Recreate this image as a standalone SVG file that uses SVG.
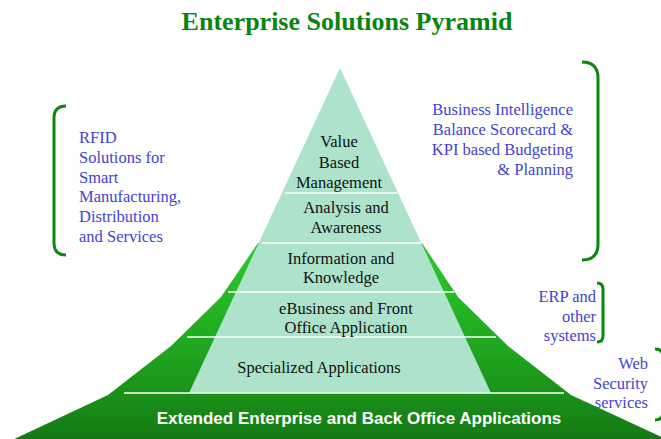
<svg xmlns="http://www.w3.org/2000/svg" width="661" height="439" viewBox="0 0 661 439">
<defs>
<linearGradient id="gr" x1="0" y1="243" x2="0" y2="439" gradientUnits="userSpaceOnUse">
<stop offset="0" stop-color="#2cc92c"/>
<stop offset="0.55" stop-color="#1fa61f"/>
<stop offset="1" stop-color="#147a14"/>
</linearGradient>
<style>
.title{font-family:"Liberation Serif",serif;font-weight:bold;font-size:26px;fill:#0a850a;text-anchor:middle}
.lbl{font-family:"Liberation Serif",serif;font-size:16.5px;fill:#111;text-anchor:middle}
.side{font-family:"Liberation Serif",serif;font-size:16.5px;fill:#4343d2}
.base{font-family:"Liberation Sans",Arial,sans-serif;font-weight:bold;font-size:17px;fill:#fff;text-anchor:middle}
.sep{stroke:#fff;stroke-width:1.5;fill:none}
.br{stroke:#0c870c;stroke-width:3;fill:none}
.light{fill:#ade3ca}
</style>
</defs>
<rect width="661" height="439" fill="#fff"/>
<text class="title" x="347" y="30">Enterprise Solutions Pyramid</text>

<g id="pyramid-shape">
<polygon points="258,243 422,243 458,297 508,346 571,395 670,441 10,441 108,395 171,346 221,297" fill="url(#gr)"/>
<polygon class="light" points="340,68 491,393 189,393"/>
</g>

<g id="connectors">
<line class="sep" x1="285" y1="193" x2="398" y2="193"/>
<line class="sep" x1="262" y1="243" x2="421" y2="243"/>
<line class="sep" x1="228" y1="292" x2="454" y2="292"/>
<line class="sep" x1="187" y1="337" x2="496" y2="337"/>
<line class="sep" x1="124" y1="393" x2="564" y2="393"/>
<path class="br" d="M66,106 Q54,106 54,118 L54,243 Q54,255 66,255"/>
<path class="br" d="M582,62 Q598,62 598,78 L598,244 Q598,260 582,260"/>
<path class="br" d="M597,283 Q603,283 603,289 L603,336 Q603,342 597,342"/>
<path class="br" d="M655,349 Q663,349 663,357 L663,412 Q663,420 655,420"/>
</g>

<g id="value-based-management">
<text class="lbl" x="339" y="147">Value</text>
<text class="lbl" x="339" y="168">Based</text>
<text class="lbl" x="339" y="188">Management</text>
</g>
<g id="analysis-awareness">
<text class="lbl" x="346" y="213">Analysis  and</text>
<text class="lbl" x="346" y="233">Awareness</text>
</g>
<g id="information-knowledge">
<text class="lbl" x="341" y="264">Information and</text>
<text class="lbl" x="341" y="283">Knowledge</text>
</g>
<g id="ebusiness">
<text class="lbl" x="346" y="314">eBusiness and Front</text>
<text class="lbl" x="346" y="333">Office Application</text>
</g>
<g id="specialized">
<text class="lbl" x="319" y="373">Specialized Applications</text>
</g>
<g id="extended">
<text class="base" x="359" y="424">Extended Enterprise and Back Office Applications</text>
</g>

<g id="rfid">
<text class="side" x="79" y="143">RFID</text>
<text class="side" x="79" y="163">Solutions  for</text>
<text class="side" x="79" y="183">Smart</text>
<text class="side" x="79" y="202">Manufacturing,</text>
<text class="side" x="79" y="222">Distribution</text>
<text class="side" x="79" y="242">and Services</text>
</g>
<g id="business-intelligence" text-anchor="end">
<text class="side" x="573" y="115">Business  Intelligence</text>
<text class="side" x="573" y="135">Balance Scorecard  &amp;</text>
<text class="side" x="573" y="155">KPI based Budgeting</text>
<text class="side" x="573" y="175">&amp; Planning</text>
</g>
<g id="erp" text-anchor="end">
<text class="side" x="596" y="302">ERP and</text>
<text class="side" x="596" y="322">other</text>
<text class="side" x="596" y="341">systems</text>
</g>
<g id="web-security" text-anchor="end">
<text class="side" x="648" y="369">Web</text>
<text class="side" x="648" y="389">Security</text>
<text class="side" x="648" y="408">services</text>
</g>
</svg>
